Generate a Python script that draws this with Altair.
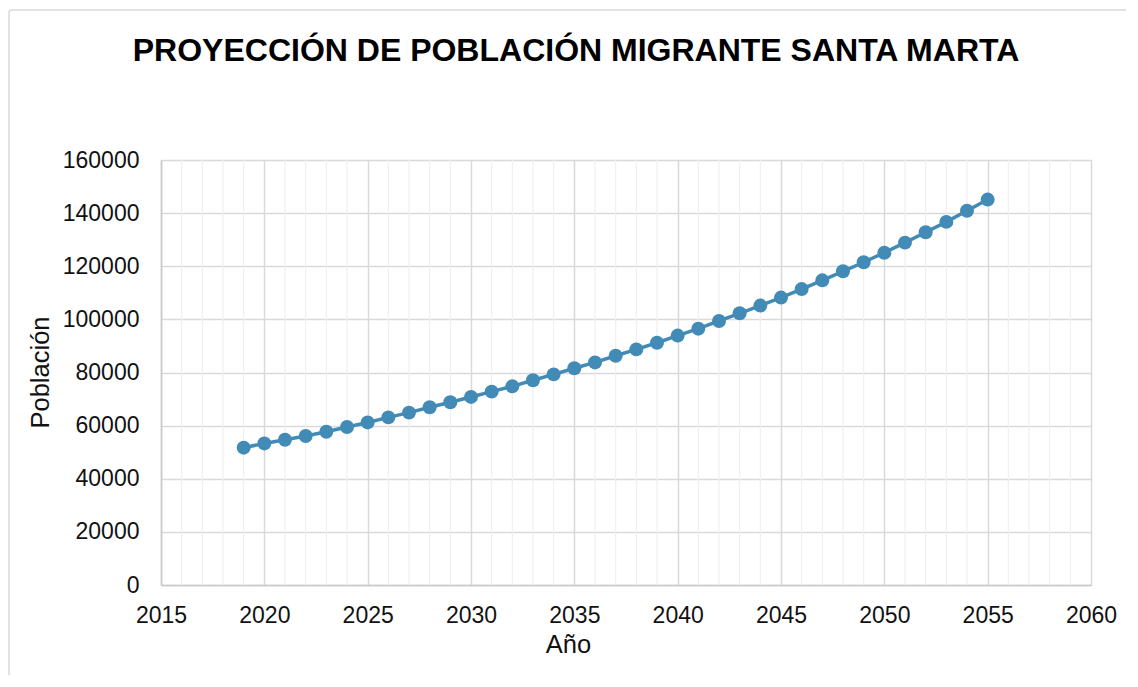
import altair as alt
import pandas as pd

years = list(range(2019, 2056))
poblacion = [51700, 53300, 54700, 56100, 57700, 59500, 61200, 63100, 64900, 66900,
             68800, 70800, 72800, 74800, 77100, 79300, 81600, 83800, 86300, 88700,
             91200, 93900, 96500, 99400, 102300, 105200, 108200, 111400, 114700, 118100,
             121500, 125100, 128900, 132800, 136700, 140900, 145100]
x_ticks = [2015, 2020, 2025, 2030, 2035, 2040, 2045, 2050, 2055, 2060]
y_ticks = [0, 20000, 40000, 60000, 80000, 100000, 120000, 140000, 160000]
minor_years = [y for y in range(2016, 2060) if y % 5 != 0]

FONT = "Liberation Sans"
BLUE = "#428BB6"

df = pd.DataFrame({"Año": years, "Población": poblacion})
minor_df = pd.DataFrame({"Año": minor_years})

xscale = alt.Scale(domain=[2015, 2060], nice=False, zero=False)
yscale = alt.Scale(domain=[0, 160000], nice=False)

xaxis = alt.Axis(
    values=x_ticks, format="d", grid=True, gridColor="#d9d9d9", gridWidth=1.5,
    ticks=False, domain=True, domainColor="#c8c8c8", domainWidth=1.5,
    labelFont=FONT, labelFontSize=23, labelColor="#111111", labelPadding=19,
    labelFlush=False, labelOverlap=False,
    title="Año", titleFont=FONT, titleFontSize=25.5, titleFontWeight="normal",
    titleColor="#111111", titleX=407, titleY=67, titleAlign="center",
    titleBaseline="alphabetic"
)
yaxis = alt.Axis(
    values=y_ticks, format="d", grid=True, gridColor="#d9d9d9", gridWidth=1.5,
    ticks=False, domain=True, domainColor="#c8c8c8", domainWidth=1.5,
    labelFont=FONT, labelFontSize=23, labelColor="#111111", labelPadding=22,
    labelFlush=False, labelOverlap=False,
    title="Población", titleFont=FONT, titleFontSize=25.5, titleFontWeight="normal",
    titleColor="#111111", titleX=-113, titleY=212, titleAngle=270,
    titleAlign="center", titleBaseline="alphabetic"
)

frame = alt.Chart(alt.Data(values=[{"a": 1}])).mark_rect(
    fill="white", fillOpacity=0, stroke="#d9d9d9", strokeWidth=1.5, cornerRadius=3
).encode(
    x=alt.value(-152), x2=alt.value(1000), y=alt.value(-150), y2=alt.value(600)
)

minor = alt.Chart(minor_df).mark_rule(color="#efefef", strokeWidth=1.2).encode(
    x=alt.X("Año:Q", scale=xscale, axis=xaxis),
    y=alt.value(0), y2=alt.value(425)
)

base = alt.Chart(df).encode(
    x=alt.X("Año:Q", scale=xscale, axis=xaxis),
    y=alt.Y("Población:Q", scale=yscale, axis=yaxis),
)
line = base.mark_line(color=BLUE, strokeWidth=3.5)
points = base.mark_circle(color=BLUE, size=195, opacity=1)

chart = alt.layer(minor, line, points, frame).properties(
    width=930, height=425,
    autosize=alt.AutoSizeParams(type="none"),
    padding={"left": 153, "top": 152, "right": 35, "bottom": 90},
    title=alt.TitleParams(
        "PROYECCIÓN DE POBLACIÓN MIGRANTE SANTA MARTA",
        font=FONT, fontSize=32, fontWeight="bold", color="#000000",
        anchor="middle", dx=-50, dy=84, baseline="alphabetic", offset=0
    ),
).configure_view(stroke=None).configure(background="white")

chart.save("out.html", embed_options={"renderer": "svg", "actions": False})
